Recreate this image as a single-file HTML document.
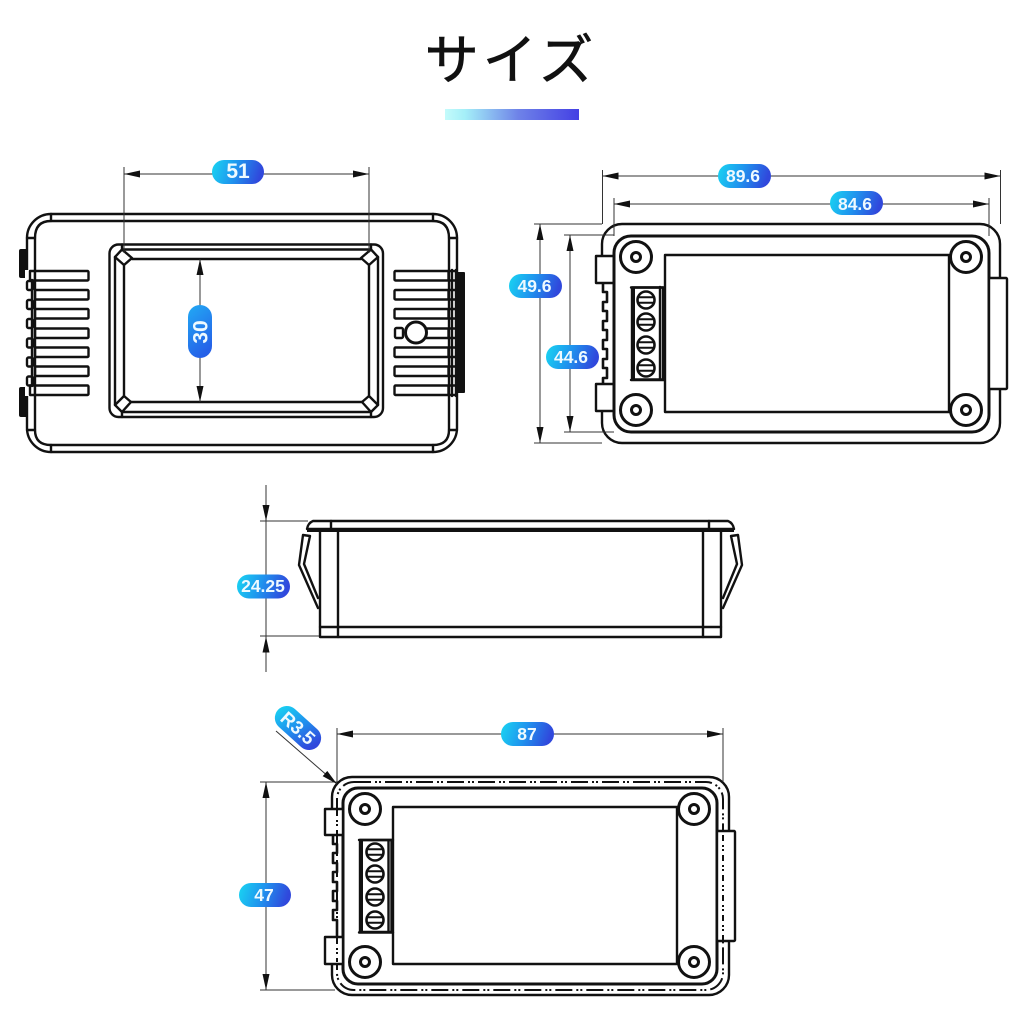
<!DOCTYPE html>
<html>
<head>
<meta charset="utf-8">
<style>
html,body{margin:0;padding:0;background:#fff;}
svg{display:block;}
.l{fill:none;stroke:#111;stroke-width:2.400;stroke-linejoin:round;stroke-linecap:round;}
.w{fill:#fff;stroke:#111;stroke-width:2.400;stroke-linejoin:round;}
.th{fill:none;stroke:#111;stroke-width:2.600;stroke-linejoin:round;}
.d{fill:none;stroke:#333;stroke-width:1;}
.a{marker-start:url(#ar);marker-end:url(#ar);}
.e{marker-end:url(#ar);}
.p{font-family:"Liberation Sans",sans-serif;font-weight:bold;font-size:17.500px;fill:#eefaff;text-anchor:middle;}
</style>
</head>
<body>
<svg width="1024" height="1024" viewBox="0 0 1024 1024" xmlns="http://www.w3.org/2000/svg">
<defs>
<linearGradient id="g" x1="0" y1="0" x2="1" y2="0.15"><stop offset="0" stop-color="#19d6f2"/><stop offset="0.5" stop-color="#1f94ee"/><stop offset="1" stop-color="#3048dc"/></linearGradient>
<linearGradient id="gv" x1="0.1" y1="0" x2="0.5" y2="1"><stop offset="0" stop-color="#22a8f4"/><stop offset="1" stop-color="#2560e8"/></linearGradient>
<linearGradient id="bar" x1="0" y1="0" x2="1" y2="0"><stop offset="0" stop-color="#c4fbfb"/><stop offset="0.15" stop-color="#a4eff8"/><stop offset="0.55" stop-color="#6e82e8"/><stop offset="1" stop-color="#4440e4"/></linearGradient>
<marker id="ar" markerUnits="userSpaceOnUse" markerWidth="18" markerHeight="8" refX="16" refY="3.500" orient="auto-start-reverse"><path d="M0,0 L16,3.500 L0,7 Z" fill="#111"/></marker>
<g id="boss"><circle r="15.500" fill="#fff" stroke="#111" stroke-width="3"/><circle r="4.500" fill="#fff" stroke="#111" stroke-width="3"/></g>
<g id="screw"><circle r="8.500" fill="#fff" stroke="#111" stroke-width="2.600"/><path d="M-8,-2.800H8M-8,2.800H8" stroke="#111" stroke-width="2"/></g>
</defs>
<rect width="1024" height="1024" fill="#fff"/>

<!-- title -->
<text x="511" y="79" font-family="'Noto Sans CJK JP','Liberation Sans',sans-serif" font-size="54" letter-spacing="4" text-anchor="middle" fill="#111" stroke="#111" stroke-width="0.700">サイズ</text>
<rect x="445" y="109" width="134" height="11" fill="url(#bar)"/>

<!-- FRONT VIEW -->
<g>
<rect x="19" y="249" width="9" height="29" rx="2" fill="#111"/>
<rect x="19" y="387" width="9" height="30" rx="2" fill="#111"/>
<rect x="457" y="272" width="8" height="121" rx="1" fill="#111"/>
<rect x="27" y="214" width="430" height="238" rx="24" class="w"/>
<path class="l" d="M51,221 H433 Q449,221 449,238 V430 Q449,445 433,445 H51 Q35,445 35,430 V238 Q35,221 51,221 Z"/>
<path class="l" d="M51,214V221M433,214V221M51,445V452M433,445V452M27,238H35M449,238H457M27,430H35M449,430H457"/>
<rect x="25" y="270" width="12" height="126" fill="#fff"/>
<!-- left ribs -->
<g class="w">
<rect x="27" y="281" width="6" height="9" rx="1.500"/><rect x="27" y="300" width="6" height="9" rx="1.500"/><rect x="27" y="319" width="6" height="9" rx="1.500"/><rect x="27" y="338.500" width="6" height="9" rx="1.500"/><rect x="27" y="357.500" width="6" height="9" rx="1.500"/><rect x="27" y="376.500" width="6" height="9" rx="1.500"/>
<rect x="30" y="271" width="5" height="9.500"/><rect x="35" y="271" width="53.500" height="9.500" rx="1"/><rect x="35" y="290" width="53.500" height="9.500" rx="1"/><rect x="35" y="309" width="53.500" height="9.500" rx="1"/><rect x="35" y="328.500" width="53.500" height="9.500" rx="1"/><rect x="35" y="347.500" width="53.500" height="9.500" rx="1"/><rect x="35" y="366.500" width="53.500" height="9.500" rx="1"/><rect x="30" y="385.500" width="5" height="9.500"/><rect x="35" y="385.500" width="53.500" height="9.500" rx="1"/>
</g>
<path class="l" d="M32,280V386M35,280V386"/>
<!-- right ribs -->
<rect x="447" y="270" width="10" height="126" fill="#fff"/>
<g class="w">
<rect x="394.500" y="271" width="54" height="9.500" rx="1"/><rect x="394.500" y="290" width="54" height="9.500" rx="1"/><rect x="394.500" y="309" width="54" height="9.500" rx="1"/><rect x="420" y="328.500" width="28.500" height="9.500"/><rect x="394.500" y="347.500" width="54" height="9.500" rx="1"/><rect x="394.500" y="366.500" width="54" height="9.500" rx="1"/><rect x="394.500" y="385.500" width="54" height="9.500" rx="1"/>
<rect x="395" y="328" width="8" height="10" rx="1.500"/>
<circle cx="416" cy="332.500" r="10.500" stroke-width="3"/>
</g>
<path class="l" d="M449,270V396M452,270V396M456,270V396"/>
<path class="l" d="M449,271H456M449,280.500H456M449,290H456M449,299.500H456M449,309H456M449,318.500H456M449,328.500H456M449,338H456M449,347.500H456M449,357H456M449,366.500H456M449,376H456M449,385.500H456M449,395H456"/>
<!-- window -->
<rect x="109.500" y="244.500" width="273.500" height="172.500" rx="9" class="w"/>
<path class="l" d="M124,265V396M369,265V396M132,259H361M131,402H362M115,257V405M378,257V405M122,249.500H371M122,412H371"/>
<path class="l" d="M115,257L122,249.500L132,258L124,265ZM378,257L371,249.500L361,258L369,265ZM115,405L122,412L131,402L124,396ZM378,405L371,412L362,402L369,396Z"/>
<path class="l" d="M122,244.500V249.500M371,244.500V249.500M122,412V417M371,412V417"/>
</g>

<!-- RIGHT VIEW -->
<g>
<rect x="602" y="224" width="398" height="219" rx="20" class="w"/>
<rect x="600" y="284" width="13" height="100" fill="#fff"/>
<path class="th" d="M603,284V292H607V302H603V311H607V321H603V330H607V340H603V349H607V359H603V368H607V378H603V384"/>
<rect x="596" y="256" width="18" height="27" class="w"/>
<rect x="596" y="384" width="18" height="27" class="w"/>
<rect x="614" y="236" width="375" height="196" rx="17" fill="#fff" stroke="#111" stroke-width="3"/>
<rect x="989" y="278" width="18" height="111" rx="1" class="w"/>
<rect x="665" y="255" width="284" height="157" class="l"/>
<use href="#boss" x="636" y="257"/><use href="#boss" x="966" y="257"/><use href="#boss" x="636" y="410"/><use href="#boss" x="966" y="410"/>
<rect x="632" y="287.500" width="31" height="92" class="w"/>
<path d="M631,287V380.500H635V287Z" fill="#111"/><path class="l" d="M631,380H664M631,287.500H664M660,287V380" />
<use href="#screw" x="646" y="300"/><use href="#screw" x="646" y="322"/><use href="#screw" x="646" y="345"/><use href="#screw" x="646" y="368"/>
</g>

<!-- SIDE VIEW -->
<g>
<path class="l" d="M320,530V637H721V530"/>
<path class="l" d="M338,530V637M703,530V637M320,627H721"/>
<path class="l" d="M313,521H728Q733,523 734,529H307Q308,523 313,521Z"/>
<path d="M307,528H734V532H307Z" fill="#111"/>
<path class="l" d="M331,521V529M709,521V529"/>
<path class="l" d="M303,535L310,536L304,564L318,598M303,535L299,565L318,608"/>
<path class="l" d="M738,535L731,536L737,564L723,598M738,535L742,565L723,608"/>
</g>

<!-- BOTTOM VIEW -->
<g>
<rect x="332" y="777" width="397" height="218" rx="20" class="w"/>
<rect x="337" y="782" width="386" height="208" rx="17" fill="none" stroke="#111" stroke-width="2" stroke-dasharray="17 4 2 2 2 4"/>
<rect x="329" y="836" width="7" height="100" fill="#fff"/>
<path class="th" d="M333,836V844H337V853H333V863H337V872H333V882H337V891H333V901H337V910H333V920H337V936"/>
<rect x="343" y="788" width="374" height="196" rx="15" fill="#fff" stroke="#111" stroke-width="3"/>
<rect x="325" y="809" width="18" height="26" class="w"/>
<rect x="325" y="937" width="18" height="27" class="w"/>
<rect x="717" y="831" width="18" height="110" rx="1" class="w"/>
<path fill="none" stroke="#111" stroke-width="2" stroke-dasharray="6 4 2 2 2 4" d="M723,835V941M337,810V835M337,938V962"/>
<rect x="393" y="807" width="284" height="157" class="l"/>
<use href="#boss" x="365" y="809"/><use href="#boss" x="694" y="809"/><use href="#boss" x="365" y="962"/><use href="#boss" x="694" y="962"/>
<rect x="360" y="840" width="32" height="92" class="w"/>
<path d="M359,839V933H363V839Z" fill="#111"/><path class="l" d="M359,932.500H393M359,840H393M388.500,840V932M391.500,840V932"/>
<use href="#screw" x="375" y="852"/><use href="#screw" x="375" y="874"/><use href="#screw" x="375" y="897"/><use href="#screw" x="375" y="920"/>
</g>

<!-- dimensions -->
<g class="d">
<path d="M124,167V253M369,167V253"/>
<path class="a" d="M124,174H369"/>
<path class="a" d="M200,259V402"/>
<path d="M602.500,170V224M1000.500,170V224M614,198V236M989,198V236"/>
<path class="a" d="M602.500,176H1000.500"/>
<path class="a" d="M614,204H989"/>
<path d="M534,224H602M534,443H602M564,235H614M564,432H614"/>
<path class="a" d="M540,224V443"/>
<path class="a" d="M570,235V432"/>
<path d="M260,521H308M260,636H319"/>
<path class="e" d="M266,485V521"/>
<path class="e" d="M266,672V636.500"/>
<path d="M266,521V636"/>
<path d="M337,728V782M723,728V782M260,782H337M260,990H335"/>
<path class="a" d="M337,734H723"/>
<path class="a" d="M266,782V990"/>
<path class="e" d="M276,731L337,784"/>
</g>

<!-- pills -->
<rect x="212" y="160" width="52" height="24" rx="12" fill="url(#g)"/><text class="p" x="238" y="178" style="font-size:21px">51</text>
<rect x="188" y="305" width="24" height="53" rx="12" fill="url(#gv)"/><text class="p" transform="translate(207.500,332) rotate(-90)" style="font-size:21px">30</text>
<rect x="718" y="164" width="53" height="24" rx="12" fill="url(#g)"/><text class="p" x="743" y="182">89.6</text>
<rect x="830" y="191" width="53" height="24" rx="12" fill="url(#g)"/><text class="p" x="855" y="210">84.6</text>
<rect x="509" y="274" width="53" height="24" rx="12" fill="url(#g)"/><text class="p" x="534.500" y="292">49.6</text>
<rect x="546" y="345" width="53" height="24" rx="12" fill="url(#g)"/><text class="p" x="571" y="363">44.6</text>
<rect x="237" y="574.500" width="53" height="24" rx="12" fill="url(#g)"/><text class="p" x="263" y="592">24.25</text>
<rect x="501" y="722" width="53" height="24" rx="12" fill="url(#g)"/><text class="p" x="527" y="740">87</text>
<rect x="239" y="883" width="52" height="24" rx="12" fill="url(#g)"/><text class="p" x="264" y="901">47</text>
<g transform="translate(298,728) rotate(42)"><rect x="-27" y="-12" width="54" height="24" rx="12" fill="url(#g)"/><text class="p" x="0" y="6.500" style="font-size:18.500px">R3.5</text></g>
</svg>
</body>
</html>
